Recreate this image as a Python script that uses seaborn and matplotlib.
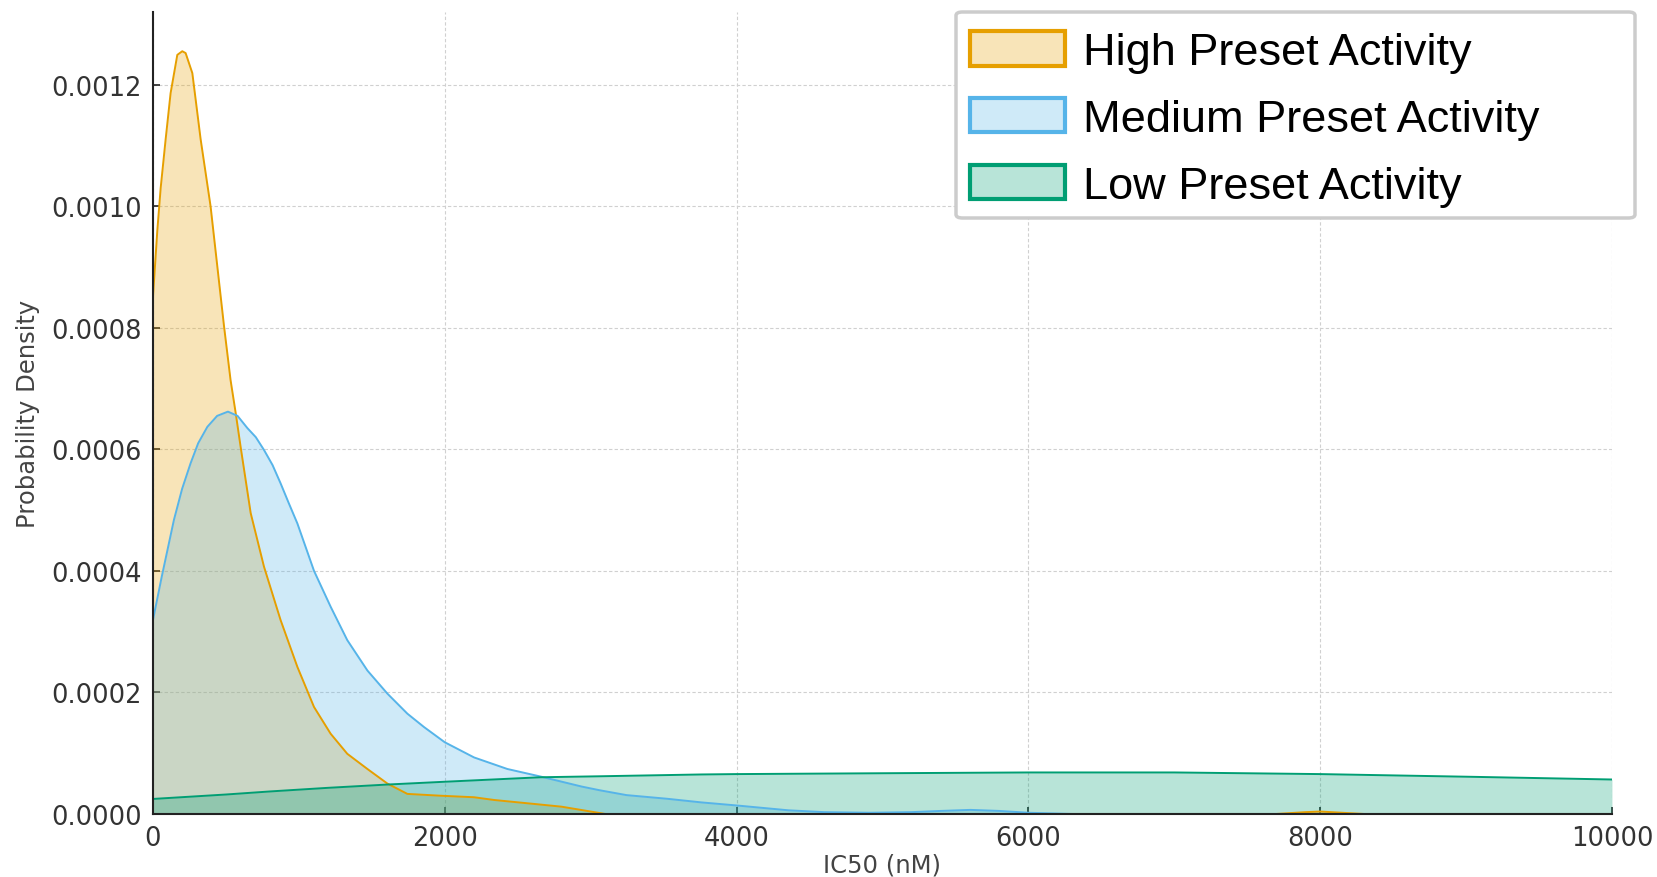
import numpy as np
import pandas as pd
import seaborn as sns
import matplotlib.pyplot as plt
from matplotlib.patches import Patch, FancyBboxPatch
from matplotlib.colors import to_rgb

# density curves (IC50 in nM, density in 1e-4 units)
high_x = [0, 30, 53, 87, 121, 167, 201, 224, 270, 327, 395, 487, 532, 567, 601, 670, 761, 875,
          990, 1104, 1218, 1332, 1470, 1607, 1744, 1972, 2201, 2338, 2658, 2800, 3000, 3100,
          7700, 7900, 8000, 8150, 8300, 10000]
high_y = [8.5, 9.6, 10.3, 11.1, 11.86, 12.49, 12.55, 12.52, 12.19, 11.1, 10.0, 8.03, 7.14, 6.6, 6.04, 4.95, 4.07, 3.19,
          2.42, 1.76, 1.32, 0.99, 0.74, 0.50, 0.33, 0.30, 0.275, 0.23, 0.154, 0.12, 0.04, 0.0,
          0.0, 0.03, 0.04, 0.02, 0.0, 0.0]

med_x = [0, 60, 144, 200, 258, 310, 373, 440, 514, 580, 647, 705, 761, 820, 875, 930, 990, 1104, 1218, 1332, 1470,
         1607, 1744, 1858, 2000, 2201, 2429, 2658, 2940, 3062, 3246, 3524, 3760, 4000, 4356, 4600,
         4910, 5200, 5400, 5603, 5800, 6000, 6300, 10000]
med_y = [3.19, 3.9, 4.84, 5.35, 5.77, 6.1, 6.37, 6.55, 6.62, 6.55, 6.35, 6.2, 5.99, 5.74, 5.44, 5.12, 4.78, 4.0, 3.41, 2.86, 2.36,
         1.98, 1.65, 1.43, 1.18, 0.93, 0.74, 0.615, 0.45, 0.39, 0.31, 0.25, 0.19, 0.14, 0.06, 0.03,
         0.02, 0.03, 0.05, 0.067, 0.05, 0.02, 0.0, 0.0]

low_x = [0, 500, 800, 1200, 1607, 2000, 2658, 3062, 3760, 4000, 5000, 6000, 7000, 8000, 9067, 10000]
low_y = [0.247, 0.32, 0.37, 0.43, 0.484, 0.53, 0.604, 0.62, 0.65, 0.656, 0.67, 0.683, 0.683, 0.656, 0.61, 0.567]

labels = ['High Preset Activity', 'Medium Preset Activity', 'Low Preset Activity']
colors = ['#E69F00', '#56B4E9', '#009E73']

df = pd.concat([
    pd.DataFrame({'ic50': high_x, 'density': np.array(high_y) * 1e-4, 'group': labels[0]}),
    pd.DataFrame({'ic50': med_x, 'density': np.array(med_y) * 1e-4, 'group': labels[1]}),
    pd.DataFrame({'ic50': low_x, 'density': np.array(low_y) * 1e-4, 'group': labels[2]}),
], ignore_index=True)

sns.set_theme(style='ticks')
plt.rcParams['font.family'] = ['DejaVu Sans']

W, H = 1657, 878
fig = plt.figure(figsize=(W / 100, H / 100), dpi=100)
ax = fig.add_axes([0.0923, 0.0718, 0.8805, 0.9137])

for lab, col in zip(labels, colors):
    sub = df[df['group'] == lab]
    ax.fill_between(sub['ic50'], sub['density'], color=col, alpha=0.28, linewidth=0)
sns.lineplot(data=df, x='ic50', y='density', hue='group', palette=dict(zip(labels, colors)),
             linewidth=1.4, legend=False, ax=ax, sort=True)

ax.set_xlim(0, 10000)
ax.set_ylim(0, 0.00132)
ax.set_xticks([0, 2000, 4000, 6000, 8000, 10000])
ax.set_yticks([0, 0.0002, 0.0004, 0.0006, 0.0008, 0.0010, 0.0012])
ax.set_yticklabels(['0.0000', '0.0002', '0.0004', '0.0006', '0.0008', '0.0010', '0.0012'])
ax.grid(True, color='#d0d0d0', linestyle=(0, (3, 2)), linewidth=0.8)
ax.set_axisbelow(True)
for s in ['top', 'right']:
    ax.spines[s].set_visible(False)
for s in ['left', 'bottom']:
    ax.spines[s].set_color('#222222')
    ax.spines[s].set_linewidth(1.5)
ax.tick_params(direction='in', length=5, width=1.2, colors='#222222', labelsize=18.5,
               labelcolor='#333333', pad=8)
ax.set_xlabel('IC50 (nM)', fontsize=17.5, color='#444444', labelpad=1)
ax.set_ylabel('Probability Density', fontsize=17.5, color='#444444', labelpad=8)

# legend box (frame drawn separately so it can be as wide as in the reference)
frame = FancyBboxPatch((956 / W, 1 - 219 / H), (1635 - 956) / W, (219 - 13) / H,
                       boxstyle='round,pad=0,rounding_size=0.004', transform=fig.transFigure,
                       facecolor='white', edgecolor='#cccccc', linewidth=2.5, zorder=5)
fig.patches.append(frame)

handles = [Patch(facecolor=(*to_rgb(c), 0.28), edgecolor=c, linewidth=3) for c in colors]
leg = fig.legend(handles, labels, loc='upper left', bbox_to_anchor=(970 / W, 1 - 32 / H),
                 prop={'family': 'Liberation Sans', 'size': 32.5}, frameon=False,
                 handlelength=2.1, handleheight=0.8, labelspacing=0.55, borderpad=0,
                 borderaxespad=0, handletextpad=0.4, labelcolor='black')
leg.set_zorder(6)

fig.savefig('out.png', dpi=100)
